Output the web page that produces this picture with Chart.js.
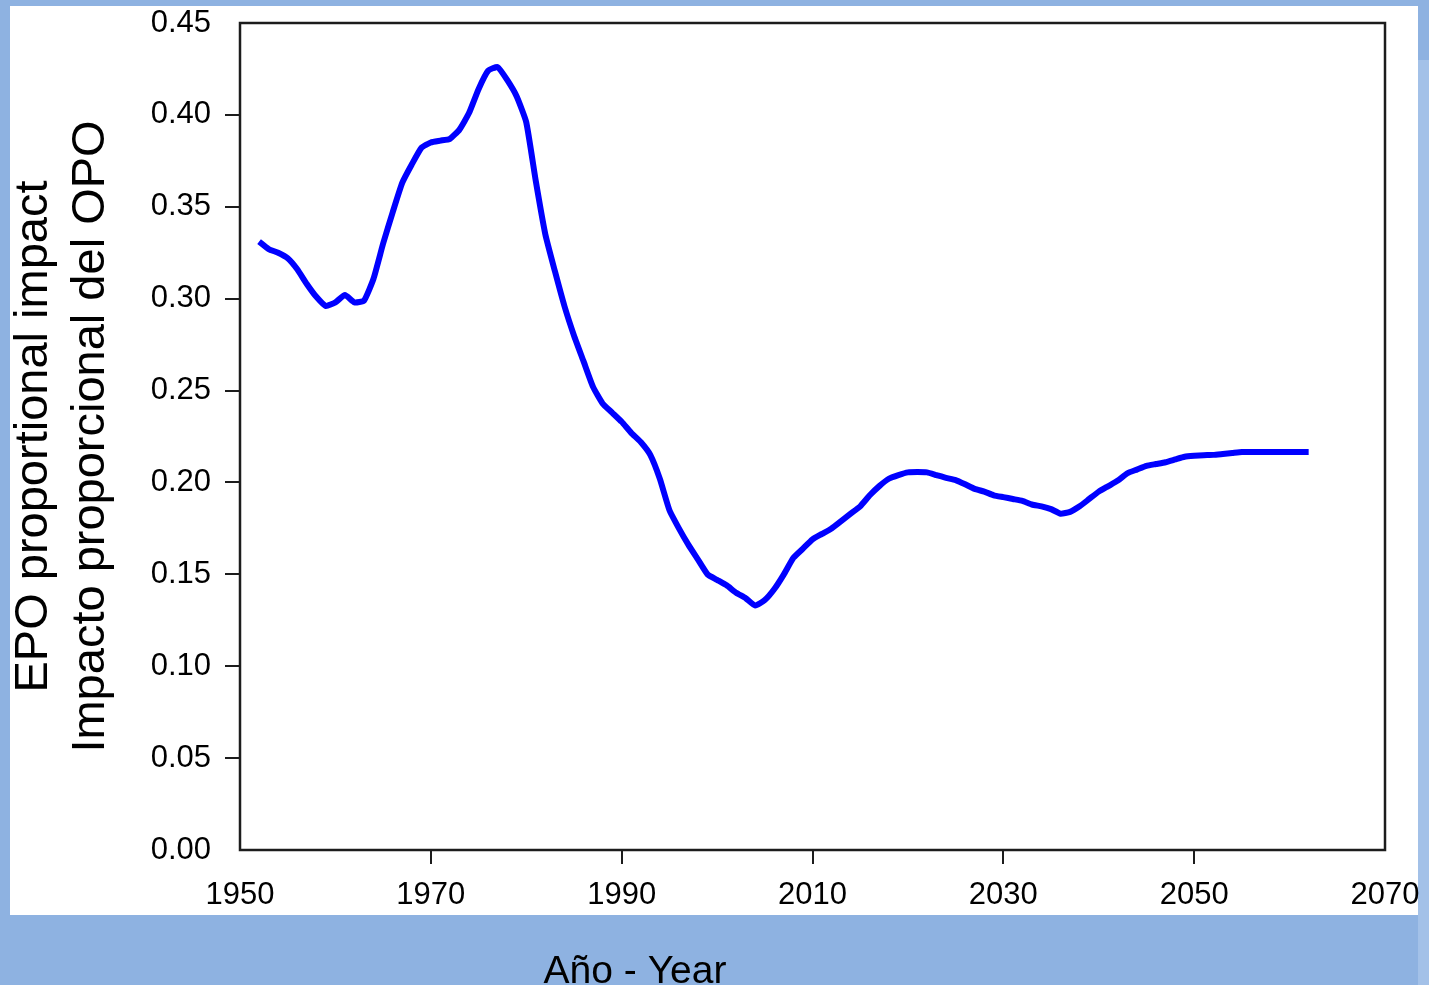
<!DOCTYPE html>
<html>
<head>
<meta charset="utf-8">
<script src="https://cdn.jsdelivr.net/npm/chart.js@4/dist/chart.umd.min.js"></script>
<style>
  html, body { margin: 0; padding: 0; background: #8eb2e1; }
  #wrap { width: 1429px; height: 985px; position: relative; }
</style>
</head>
<body>
<div id="wrap"><canvas id="c" width="1429" height="985"></canvas></div>
<script>
const years = [
  1952,1953,1954,1955,1956,1957,1958,1959,1960,1961,1962,1963,1964,1965,1966,1967,1968,1969,
  1970,1971,1972,1973,1974,1975,1976,1977,1978,1979,1980,1981,1982,1983,1984,1985,1986,1987,1988,1989,
  1990,1991,1992,1993,1994,1995,1996,1997,1998,1999,2000,2001,2002,2003,2004,2005,2006,2007,2008,2009,
  2010,2011,2012,2013,2014,2015,2016,2017,2018,2019,2020,2021,2022,2023,2024,2025,2026,2027,2028,2029,
  2030,2031,2032,2033,2034,2035,2036,2037,2038,2039,2040,2041,2042,2043,2044,2045,2046,2047,2048,2049,
  2050,2051,2052,2053,2054,2055,2056,2057,2058,2059,2060,2061,2062
];
const epoImpact = [
  0.331,0.327,0.325,0.322,0.316,0.308,0.301,0.296,0.298,0.302,0.298,0.299,0.311,0.330,0.347,0.363,0.373,0.382,
  0.385,0.386,0.387,0.392,0.401,0.414,0.424,0.426,0.419,0.410,0.396,0.364,0.335,0.315,0.296,0.280,0.266,0.252,0.243,0.238,
  0.233,0.227,0.222,0.215,0.202,0.185,0.175,0.166,0.158,0.150,0.147,0.144,0.140,0.137,0.133,0.136,0.142,0.150,0.159,0.164,
  0.169,0.172,0.175,0.179,0.183,0.187,0.193,0.198,0.202,0.204,0.2055,0.2057,0.2055,0.204,0.2025,0.2013,0.199,0.1965,0.195,0.193,
  0.192,0.191,0.190,0.188,0.187,0.1855,0.183,0.184,0.187,0.191,0.195,0.198,0.201,0.205,0.207,0.209,0.210,0.211,0.2125,0.214,
  0.2145,0.2148,0.215,0.2155,0.216,0.2165,0.2165,0.2165,0.2165,0.2165,0.2165,0.2165,0.2165
];
const yTitleLines = ['EPO proportional impact', 'Impacto proporcional del OPO'];
const xTitle = 'Año - Year';
const xMin = 1950, xMax = 2070, xStep = 20;
const yMin = 0, yMax = 0.45, yStep = 0.05;

const FONT = '"Liberation Sans", Arial, Helvetica, sans-serif';

const bgPlugin = {
  id: 'bg',
  beforeDraw(chart) {
    const ctx = chart.ctx;
    ctx.save();
    ctx.fillStyle = '#8eb2e1';
    ctx.fillRect(0, 0, chart.width, chart.height);
    ctx.fillStyle = '#a3c1e8';
    ctx.fillRect(1418, 60, 11, 925);
    ctx.fillStyle = '#ffffff';
    ctx.fillRect(10, 6, 1408, 909);
    ctx.restore();
  },
  afterDraw(chart) {
    const ctx = chart.ctx;
    const a = chart.chartArea;
    ctx.save();
    ctx.strokeStyle = '#1c1c1c';
    ctx.lineWidth = 2.5;
    ctx.strokeRect(a.left, a.top, a.right - a.left, a.bottom - a.top);
    ctx.fillStyle = '#000000';
    ctx.font = '39px ' + FONT;
    ctx.textAlign = 'center';
    ctx.textBaseline = 'alphabetic';
    ctx.fillText(xTitle, 635, 983);
    ctx.restore();
  }
};

const hideEnds = (min, max) => (ctx) => {
  const v = ctx.tick ? ctx.tick.value : null;
  if (v === null) return 'rgba(0,0,0,0)';
  if (Math.abs(v - min) < 1e-9 || Math.abs(v - max) < 1e-9) return 'rgba(0,0,0,0)';
  return '#1c1c1c';
};

new Chart(document.getElementById('c'), {
  type: 'line',
  data: {
    datasets: [{
      data: years.map((y, i) => ({ x: y, y: epoImpact[i] })),
      borderColor: '#0000ff',
      borderWidth: 6,
      pointRadius: 0,
      tension: 0.15,
      fill: false
    }]
  },
  options: {
    responsive: false,
    animation: false,
    devicePixelRatio: 1,
    layout: { padding: { top: 23, right: 44, bottom: 0, left: 0 } },
    plugins: { legend: { display: false }, tooltip: { enabled: false }, title: { display: false } },
    scales: {
      x: {
        type: 'linear',
        min: xMin, max: xMax,
        border: { display: false },
        grid: { drawOnChartArea: false, drawTicks: true, tickLength: 14, lineWidth: 2, color: hideEnds(xMin, xMax) },
        ticks: {
          stepSize: xStep,
          color: '#000',
          font: { family: FONT, size: 31 },
          padding: 13,
          maxRotation: 0,
          callback: (v) => String(v)
        },
        afterFit(scale) { scale.height = 135; scale.paddingLeft = 0; scale.paddingRight = 0; }
      },
      y: {
        type: 'linear',
        min: yMin, max: yMax,
        border: { display: false },
        grid: { drawOnChartArea: false, drawTicks: true, tickLength: 15, lineWidth: 2, color: hideEnds(yMin, yMax) },
        ticks: {
          stepSize: yStep,
          color: '#000',
          font: { family: FONT, size: 31 },
          padding: 14,
          callback: (v) => Number(v).toFixed(2)
        },
        title: {
          display: true,
          text: yTitleLines,
          color: '#000',
          font: { family: FONT, size: 47, lineHeight: 1.2 },
          padding: { top: 6, bottom: 0 }
        },
        afterFit(scale) { scale.width = 240; scale.paddingTop = 0; scale.paddingBottom = 0; }
      }
    }
  },
  plugins: [bgPlugin]
});
</script>
</body>
</html>
